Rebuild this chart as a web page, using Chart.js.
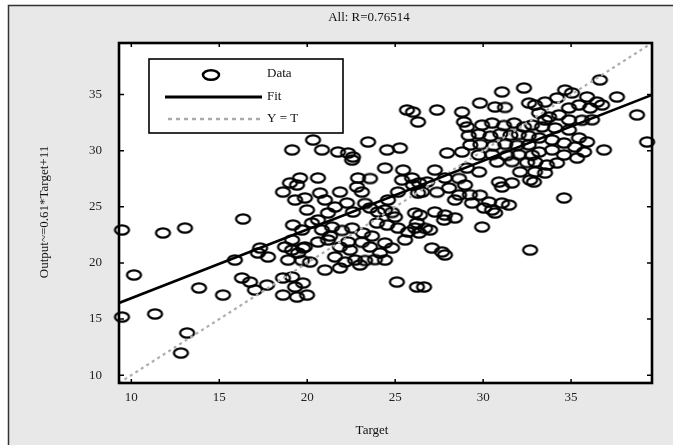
<!DOCTYPE html>
<html><head><meta charset="utf-8">
<script src="https://cdn.jsdelivr.net/npm/chart.js@4.4.1/dist/chart.umd.min.js"></script>
<style>html,body{margin:0;padding:0;background:#fff;}#wrap{width:673px;height:445px;position:relative;}</style>
</head><body><div id="wrap"><canvas id="c" width="673" height="445"></canvas></div>
<script>
const chartTitle = 'All: R=0.76514';
const xAxisTitle = 'Target';
const yAxisTitle = 'Output~=0.61*Target+11';
const legendLabels = ['Data', 'Fit', 'Y = T'];
const tickValues = [10, 15, 20, 25, 30, 35];
const axisMin = 9.3;
const axisMax = 39.6;

const targets = [
 9.47,10.15,9.47,11.35,11.80,13.05,16.35,13.85,15.21,13.17,12.82,15.89,17.32,17.77,17.20,16.29,16.75,17.03,17.71,18.62,
 18.62,19.14,19.31,19.76,19.99,19.42,18.74,19.14,19.48,19.76,18.91,19.70,19.19,18.62,19.31,19.99,19.59,19.42,19.02,19.14,
 25.67,26.01,26.30,20.33,20.84,21.75,22.32,22.60,22.55,23.46,24.54,25.27,24.42,25.45,20.61,20.73,22.89,23.57,22.83,23.11,
 21.86,25.39,26.01,25.16,26.30,19.87,21.01,21.58,21.18,20.61,20.27,22.26,22.60,23.29,23.57,24.02,24.42,24.82,24.99,26.13,
 26.24,19.70,20.84,21.41,21.98,22.55,23.17,23.97,24.54,25.16,25.73,19.14,19.87,20.61,21.18,21.86,22.32,23.11,23.57,24.42,
 24.82,24.14,21.58,22.15,22.72,23.29,23.85,24.42,21.01,25.10,26.24,
 21.30,22.43,23.00,21.86,23.68,20.16,24.59,25.56,
 31.07,32.32,29.82,30.68,31.24,32.61,32.95,28.80,28.91,29.08,27.38,29.94,30.51,31.19,31.76,32.32,32.78,29.18,29.75,30.41,
 30.98,31.55,32.03,32.59,29.27,29.84,30.60,31.26,31.93,32.59,27.95,28.80,29.75,30.51,31.36,32.03,32.78,30.79,31.64,32.50,
 32.97,27.26,29.08,29.77,25.96,26.36,26.81,27.83,28.63,30.90,31.07,31.64,32.67,26.53,27.38,28.06,28.63,29.25,29.82,30.33,
 31.07,31.47,29.37,30.05,26.41,27.26,27.83,30.51,30.68,28.40,27.78,26.13,26.70,26.36,29.94,27.09,27.83,27.66,32.67,26.64,
 26.98,28.40,28.97,32.10,
 36.64,37.61,38.75,39.32,36.87,34.60,34.66,35.05,35.91,36.47,36.08,35.45,34.88,34.20,33.52,33.18,33.75,34.31,34.88,35.62,
 36.19,36.76,33.35,34.09,34.88,35.45,35.91,35.22,34.60,33.92,33.18,33.18,33.92,34.60,35.34,35.74,33.63,34.20,32.95,33.52,
 32.89,33.52
];
const outputs = [
 22.94,18.93,15.18,15.45,22.67,23.11,23.92,17.77,17.14,13.76,11.97,20.26,21.33,20.53,20.89,18.66,18.30,17.59,18.03,18.66,
 17.14,18.75,17.86,18.21,17.14,16.96,21.42,21.15,20.89,21.33,20.26,20.22,23.38,26.32,25.61,24.72,27.57,26.95,27.13,30.07,
 33.63,33.45,32.56,30.96,30.07,29.89,29.80,29.44,29.17,30.78,30.07,30.24,28.46,28.28,27.57,26.23,27.57,27.52,26.77,26.32,
 26.32,27.39,26.95,26.32,26.23,25.79,25.61,24.99,24.45,23.83,23.56,25.34,24.54,25.30,24.90,24.54,24.72,24.50,24.09,24.45,
 23.56,22.94,22.94,23.20,22.90,23.11,22.67,23.56,23.38,23.11,22.76,22.05,21.42,21.87,22.05,21.42,21.87,21.84,21.42,21.78,
 21.33,20.89,20.53,20.08,20.26,20.22,20.30,20.26,19.37,18.30,17.86,
 22.40,21.15,19.82,19.55,22.40,20.08,25.61,22.05,
 35.24,35.59,34.25,33.90,33.86,34.25,34.08,33.45,32.56,32.12,33.63,32.29,32.47,32.25,32.47,32.12,32.29,31.35,31.48,31.30,
 31.52,31.38,31.45,31.33,30.51,30.56,30.45,30.58,30.48,30.53,29.80,29.89,29.62,29.66,29.58,29.65,29.60,28.99,29.03,28.95,
 28.99,28.28,28.46,28.11,27.57,27.13,27.21,27.57,27.53,27.21,26.77,27.13,27.39,26.32,26.30,26.68,26.06,26.08,26.04,25.43,
 25.34,25.16,25.34,24.90,24.27,24.54,24.27,24.72,24.45,24.01,23.83,23.11,23.09,22.67,23.20,21.33,20.71,20.98,21.15,17.86,
 22.94,25.61,26.95,28.11,
 36.31,34.79,33.19,30.78,30.07,25.79,35.41,35.15,34.79,34.34,33.81,34.08,33.81,34.70,34.34,33.36,33.01,33.19,32.74,32.72,
 32.76,34.08,32.12,32.03,31.85,31.14,30.78,30.33,30.69,30.96,31.14,29.89,30.07,29.62,29.35,29.89,28.73,28.91,28.11,28.02,
 27.21,32.74
];
const fitTargets = [9.3, 39.6];
const fitOutputs = [16.43, 34.97];
const identityTargets = [9.3, 39.6];
const identityOutputs = [9.3, 39.6];

const SERIF = "'Liberation Serif', 'Times New Roman', serif";

function ellipseMarker(rx, ry, lw) {
  const c = document.createElement('canvas');
  c.width = Math.ceil(2 * rx + lw + 2);
  c.height = Math.ceil(2 * ry + lw + 2);
  const g = c.getContext('2d');
  g.lineWidth = lw;
  g.strokeStyle = '#000';
  g.beginPath();
  g.ellipse(c.width / 2, c.height / 2, rx, ry, 0, 0, Math.PI * 2);
  g.stroke();
  return c;
}
const marker = ellipseMarker(7, 4.7, 2.3);

const pts = (xs, ys) => xs.map((x, i) => ({ x: x, y: ys[i] }));

const framePlugin = {
  id: 'frame',
  beforeDraw(chart) {
    const ctx = chart.ctx, a = chart.chartArea;
    ctx.save();
    ctx.fillStyle = '#ffffff';
    ctx.fillRect(0, 0, chart.width, chart.height);
    ctx.fillStyle = '#e8e8e8';
    ctx.fillRect(9, 6, chart.width - 9, chart.height - 6);
    ctx.strokeStyle = '#333';
    ctx.lineWidth = 1.5;
    ctx.beginPath();
    ctx.moveTo(8.5, chart.height);
    ctx.lineTo(8.5, 5.5);
    ctx.lineTo(chart.width, 5.5);
    ctx.stroke();
    ctx.fillStyle = '#ffffff';
    ctx.fillRect(a.left, a.top, a.right - a.left, a.bottom - a.top);
    ctx.restore();
  },
  afterDatasetsDraw(chart) {
    const ctx = chart.ctx, a = chart.chartArea;
    const xs = chart.scales.x, ys = chart.scales.y;
    ctx.save();
    ctx.strokeStyle = '#000';
    ctx.lineWidth = 1.5;
    ctx.beginPath();
    tickValues.forEach(v => {
      const px = xs.getPixelForValue(v);
      ctx.moveTo(px, a.bottom); ctx.lineTo(px, a.bottom - 4);
      ctx.moveTo(px, a.top); ctx.lineTo(px, a.top + 4);
      const py = ys.getPixelForValue(v);
      ctx.moveTo(a.left, py); ctx.lineTo(a.left + 5, py);
      ctx.moveTo(a.right, py); ctx.lineTo(a.right - 5, py);
    });
    ctx.stroke();
    ctx.lineWidth = 2.6;
    ctx.strokeRect(a.left, a.top, a.right - a.left, a.bottom - a.top);
    ctx.restore();
  },
  afterDraw(chart) {
    const ctx = chart.ctx;
    ctx.save();
    ctx.fillStyle = '#111';
    ctx.font = '13px ' + SERIF;
    ctx.textAlign = 'center';
    ctx.textBaseline = 'middle';
    ctx.fillText(chartTitle, 369, 18);
    ctx.fillText(xAxisTitle, 372, 431);
    ctx.save();
    ctx.translate(45, 212);
    ctx.rotate(-Math.PI / 2);
    ctx.fillText(yAxisTitle, 0, 0);
    ctx.restore();
    // legend
    ctx.fillStyle = '#fff';
    ctx.fillRect(149, 59, 194, 74);
    ctx.strokeStyle = '#000';
    ctx.lineWidth = 1.6;
    ctx.strokeRect(149, 59, 194, 74);
    ctx.lineWidth = 2.5;
    ctx.beginPath();
    ctx.ellipse(211, 75, 8, 4.8, 0, 0, Math.PI * 2);
    ctx.stroke();
    ctx.lineWidth = 3;
    ctx.beginPath();
    ctx.moveTo(165, 97); ctx.lineTo(262, 97);
    ctx.stroke();
    ctx.strokeStyle = '#aaaaaa';
    ctx.lineWidth = 2.5;
    ctx.setLineDash([4, 4]);
    ctx.beginPath();
    ctx.moveTo(168, 119); ctx.lineTo(262, 119);
    ctx.stroke();
    ctx.setLineDash([]);
    ctx.fillStyle = '#111';
    ctx.textAlign = 'left';
    ctx.fillText(legendLabels[0], 267, 74);
    ctx.fillText(legendLabels[1], 267, 97);
    ctx.fillText(legendLabels[2], 267, 119);
    ctx.restore();
  }
};

const tickFont = { family: SERIF, size: 13 };

new Chart(document.getElementById('c'), {
  type: 'scatter',
  data: {
    datasets: [
      { label: legendLabels[1], data: pts(fitTargets, fitOutputs), showLine: true,
        borderColor: '#000', borderWidth: 2.6, pointRadius: 0, fill: false },
      { label: legendLabels[2], data: pts(identityTargets, identityOutputs), showLine: true,
        borderColor: '#adadad', borderWidth: 2.2, borderDash: [3, 3.5], pointRadius: 0, fill: false },
      { label: legendLabels[0], data: pts(targets, outputs), pointStyle: marker,
        pointRadius: 7, borderColor: '#000', backgroundColor: 'rgba(0,0,0,0)', clip: false }
    ]
  },
  options: {
    responsive: false,
    animation: false,
    devicePixelRatio: 1,
    events: [],
    layout: { padding: { top: 43, right: 21, left: 0, bottom: 0 } },
    plugins: { legend: { display: false }, tooltip: { enabled: false }, title: { display: false } },
    scales: {
      x: {
        type: 'linear', min: axisMin, max: axisMax,
        afterBuildTicks: s => { s.ticks = tickValues.map(v => ({ value: v })); },
        afterFit: s => { s.height = 62; },
        grid: { display: false, drawTicks: false },
        border: { display: false },
        ticks: { font: tickFont, color: '#222', padding: 7, maxRotation: 0, autoSkip: false }
      },
      y: {
        type: 'linear', min: axisMin, max: axisMax,
        afterBuildTicks: s => { s.ticks = tickValues.map(v => ({ value: v })); },
        afterFit: s => { s.width = 119; },
        grid: { display: false, drawTicks: false },
        border: { display: false },
        ticks: { font: tickFont, color: '#222', padding: 17, autoSkip: false }
      }
    }
  },
  plugins: [framePlugin]
});
</script>
</body></html>
